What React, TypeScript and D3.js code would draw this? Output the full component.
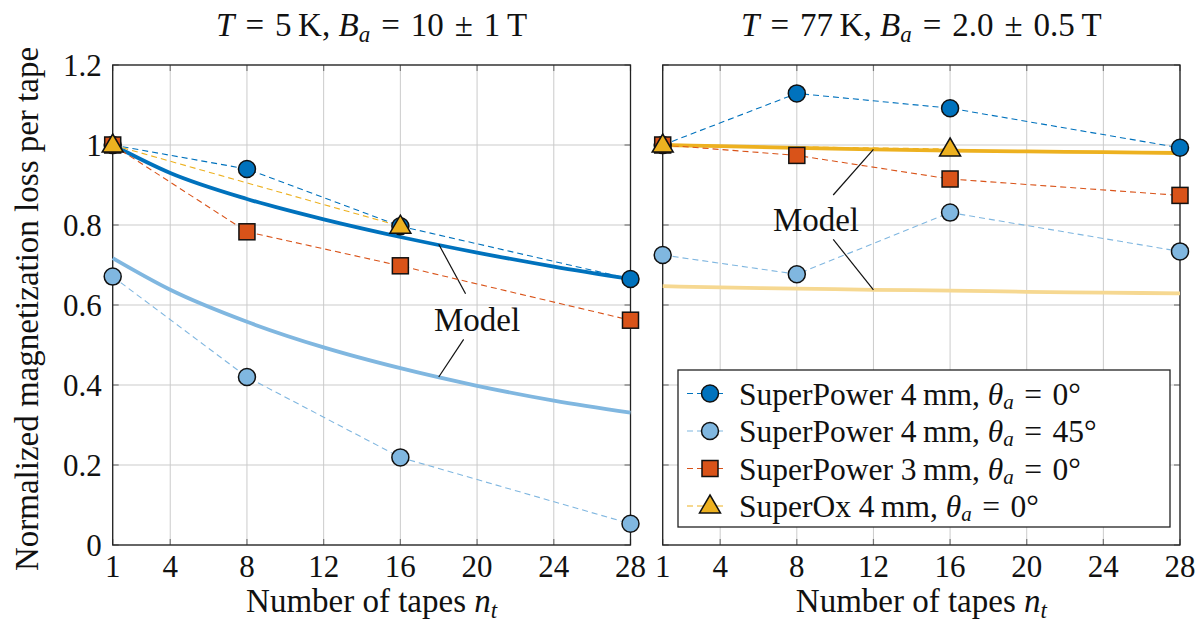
import React, { useEffect, useRef } from 'react';
import * as d3 from 'd3';

// tick labels
const xTicks = [1, 4, 8, 12, 16, 20, 24, 28];
const yTicks = [0, 0.2, 0.4, 0.6, 0.8, 1, 1.2];

// measured tape counts
const nt = [1, 8, 16, 28];
const ntOx = [1, 16];
const ntModel = [1, 4, 8, 12, 16, 20, 24, 28];

// T = 5 K
const cold_sp4_0 = [1.0, 0.94, 0.797, 0.665];
const cold_sp4_45 = [0.671, 0.42, 0.219, 0.053];
const cold_sp3_0 = [1.0, 0.783, 0.698, 0.562];
const cold_ox = [1.0, 0.797];
const cold_model_0 = [1.0, 0.93, 0.865, 0.814, 0.77, 0.731, 0.696, 0.665];
const cold_model_45 = [0.717, 0.638, 0.558, 0.494, 0.442, 0.398, 0.361, 0.331];

// T = 77 K
const warm_sp4_0 = [1.0, 1.129, 1.092, 0.993];
const warm_sp4_45 = [0.725, 0.677, 0.831, 0.734];
const warm_sp3_0 = [1.0, 0.974, 0.915, 0.874];
const warm_ox = [1.0, 0.99];
const warm_model_0 = [1.0, 0.997, 0.993, 0.989, 0.986, 0.984, 0.982, 0.98];
const warm_model_45 = [0.647, 0.644, 0.641, 0.638, 0.636, 0.633, 0.631, 0.629];

const EQ = '\u2004=\u2004';
const legendLabels = [
  { pre: 'SuperPower 4\u2009mm, ', angle: '0°' },
  { pre: 'SuperPower 4\u2009mm, ', angle: '45°' },
  { pre: 'SuperPower 3\u2009mm, ', angle: '0°' },
  { pre: 'SuperOx 4\u2009mm, ', angle: '0°' },
];

const C_DARK = '#0072BD';
const C_LIGHT = '#80B7E0';
const C_RED = '#D95319';
const C_YEL = '#EDB120';
const C_YEL_LIGHT = '#F6D891';

const FONT = '"Liberation Serif", "Times New Roman", serif';
const FS = 33; // text size
const LS = 31.5; // legend text size
const TS = 31; // tick label size
const W = 1201;
const H = 628;
const top = 65;
const bottom = 545;

const App: React.FC = () => {
  const ref = useRef<SVGSVGElement | null>(null);

  useEffect(() => {
    if (!ref.current) return;
    const svg = d3.select(ref.current);
    svg.selectAll('*').remove();

    const y = d3.scaleLinear().domain([0, 1.2]).range([bottom, top]);

    const series = (cold: boolean) => [
      { xs: nt, ys: cold ? cold_sp4_0 : warm_sp4_0, color: C_DARK, shape: 'circle' },
      { xs: nt, ys: cold ? cold_sp4_45 : warm_sp4_45, color: C_LIGHT, shape: 'circle' },
      { xs: nt, ys: cold ? cold_sp3_0 : warm_sp3_0, color: C_RED, shape: 'square' },
      { xs: ntOx, ys: cold ? cold_ox : warm_ox, color: C_YEL, shape: 'triangle' },
    ];

    const drawMarker = (g: any, shape: string, cx: number, cy: number, fill: string) => {
      if (shape === 'circle') {
        g.append('circle').attr('cx', cx).attr('cy', cy).attr('r', 8.5)
          .attr('fill', fill).attr('stroke', '#111').attr('stroke-width', 1.5);
      } else if (shape === 'square') {
        g.append('rect').attr('x', cx - 8).attr('y', cy - 8).attr('width', 16).attr('height', 16)
          .attr('fill', fill).attr('stroke', '#111').attr('stroke-width', 1.5);
      } else {
        g.append('path')
          .attr('d', `M${cx},${cy - 11}L${cx + 10.5},${cy + 7}L${cx - 10.5},${cy + 7}Z`)
          .attr('fill', fill).attr('stroke', '#111').attr('stroke-width', 1.5)
          .attr('stroke-linejoin', 'miter');
      }
    };

    // text with an italic symbol and italic subscript: pre, sym_sub, post
    const mathText = (t: any, pre: string, sym: string, sub: string, post: string, subSize = 23, drop = 6) => {
      if (pre) t.append('tspan').text(pre);
      t.append('tspan').attr('font-style', 'italic').text(sym);
      t.append('tspan').attr('font-style', 'italic').attr('font-size', subSize).attr('dy', drop).text(sub);
      if (post) t.append('tspan').attr('dy', -drop).text(post);
    };

    const panel = (
      x0: number, x1: number, cold: boolean,
      temp: string, field: string,
      ann: { tx: number; ty: number; l1: number[]; l2: number[] },
    ) => {
      const x = d3.scaleLinear().domain([1, 28]).range([x0, x1]);
      const g = svg.append('g');

      // grid
      g.selectAll('.gx').data(xTicks).join('line')
        .attr('x1', d => x(d)).attr('x2', d => x(d)).attr('y1', top).attr('y2', bottom)
        .attr('stroke', '#cbcbcb').attr('stroke-width', 1);
      g.selectAll('.gy').data(yTicks).join('line')
        .attr('y1', d => y(d)).attr('y2', d => y(d)).attr('x1', x0).attr('x2', x1)
        .attr('stroke', '#cbcbcb').attr('stroke-width', 1);

      // inner ticks
      const tk = g.append('g').attr('stroke', '#777').attr('stroke-width', 1.2);
      xTicks.forEach(d => {
        tk.append('line').attr('x1', x(d)).attr('x2', x(d)).attr('y1', top).attr('y2', top + 6);
        tk.append('line').attr('x1', x(d)).attr('x2', x(d)).attr('y1', bottom).attr('y2', bottom - 6);
      });
      yTicks.forEach(d => {
        tk.append('line').attr('x1', x0).attr('x2', x0 + 6).attr('y1', y(d)).attr('y2', y(d));
        tk.append('line').attr('x1', x1).attr('x2', x1 - 6).attr('y1', y(d)).attr('y2', y(d));
      });

      g.append('rect').attr('x', x0).attr('y', top).attr('width', x1 - x0).attr('height', bottom - top)
        .attr('fill', 'none').attr('stroke', '#222').attr('stroke-width', 1.3);

      // tick labels
      g.selectAll('.xl').data(xTicks).join('text')
        .attr('x', d => x(d)).attr('y', 577).attr('text-anchor', 'middle')
        .attr('font-family', FONT).attr('font-size', TS).attr('fill', '#111')
        .text(d => String(d));
      if (cold) {
        g.selectAll('.yl').data(yTicks).join('text')
          .attr('x', x0 - 11).attr('y', d => y(d)).attr('dy', '0.34em').attr('text-anchor', 'end')
          .attr('font-family', FONT).attr('font-size', TS).attr('fill', '#111')
          .text(d => String(d));
      }

      // axis label
      const xl = g.append('text').attr('x', (x0 + x1) / 2).attr('y', 612).attr('text-anchor', 'middle')
        .attr('font-family', FONT).attr('font-size', FS).attr('fill', '#111');
      mathText(xl, 'Number of tapes ', 'n', 't', '');

      // title
      const tt = g.append('text').attr('x', (x0 + x1) / 2).attr('y', 36).attr('text-anchor', 'middle')
        .attr('font-family', FONT).attr('font-size', FS).attr('fill', '#111');
      tt.append('tspan').attr('font-style', 'italic').text('T');
      mathText(tt, `${EQ}${temp}\u2009K, `, 'B', 'a', `${EQ}${field}\u2009T`);

      // model curves
      const models = [
        { ys: cold ? cold_model_45 : warm_model_45, color: cold ? C_LIGHT : C_YEL_LIGHT },
        { ys: cold ? cold_model_0 : warm_model_0, color: cold ? C_DARK : C_YEL },
      ];
      models.forEach(m => {
        const ln = d3.line<number>().x((_, i) => x(ntModel[i])).y(d => y(d)).curve(d3.curveMonotoneX);
        g.append('path').attr('d', ln(m.ys)).attr('fill', 'none')
          .attr('stroke', m.color).attr('stroke-width', 3.8);
      });

      // annotation
      const a = g.append('g');
      a.append('text').attr('x', x(ann.tx)).attr('y', y(ann.ty)).attr('dy', '0.35em')
        .attr('text-anchor', 'middle').attr('font-family', FONT).attr('font-size', FS)
        .attr('fill', '#111').text('Model');
      [ann.l1, ann.l2].forEach(l => {
        a.append('line').attr('x1', x(l[0])).attr('y1', y(l[1])).attr('x2', x(l[2])).attr('y2', y(l[3]))
          .attr('stroke', '#111').attr('stroke-width', 1.2);
      });

      // measured series
      series(cold).forEach(s => {
        const ln = d3.line<number>().x((_, i) => x(s.xs[i])).y(d => y(d));
        g.append('path').attr('d', ln(s.ys)).attr('fill', 'none')
          .attr('stroke', s.color).attr('stroke-width', 1.1).attr('stroke-dasharray', '6,4');
      });
      series(cold).forEach(s => {
        s.ys.forEach((v, i) => drawMarker(g, s.shape, x(s.xs[i]), y(v), s.color));
      });
    };

    panel(112.7, 630.5, true, '5', '10\u2004±\u20041',
      { tx: 20, ty: 0.565, l1: [19.4, 0.628, 18, 0.752], l2: [19.3, 0.514, 18, 0.42] });

    panel(662.7, 1180, false, '77', '2.0\u2004±\u20040.5',
      { tx: 9, ty: 0.815, l1: [9.9, 0.875, 12, 0.989], l2: [9.9, 0.764, 12, 0.638] });

    // y axis label
    svg.append('text')
      .attr('transform', `translate(38,${(top + bottom) / 2 + 4}) rotate(-90)`)
      .attr('text-anchor', 'middle').attr('font-family', FONT).attr('font-size', FS).attr('fill', '#111')
      .text('Normalized magnetization loss per tape');

    // legend
    const lg = svg.append('g').attr('transform', 'translate(678,370)');
    lg.append('rect').attr('width', 492).attr('height', 157).attr('fill', '#fff')
      .attr('stroke', '#222').attr('stroke-width', 1.3);
    const legendSeries = series(true);
    legendLabels.forEach((lab, i) => {
      const cy = 23.5 + i * 37.5;
      const s = legendSeries[i];
      lg.append('line').attr('x1', 8).attr('x2', 48).attr('y1', cy).attr('y2', cy)
        .attr('stroke', s.color).attr('stroke-width', 1.1).attr('stroke-dasharray', '6,4')
        .attr('stroke-dashoffset', -1);
      drawMarker(lg, s.shape, 32, cy, s.color);
      const t = lg.append('text').attr('x', 61).attr('y', cy).attr('dy', '0.35em')
        .attr('font-family', FONT).attr('font-size', LS).attr('fill', '#111');
      mathText(t, lab.pre, 'θ', 'a', `${EQ}${lab.angle}`, 21, 4);
    });
  }, []);

  return (
    <>
      <style>{'body{margin:0}'}</style>
      <svg ref={ref} width={W} height={H} style={{ display: 'block', background: '#fff' }} />
    </>
  );
};

export default App;
